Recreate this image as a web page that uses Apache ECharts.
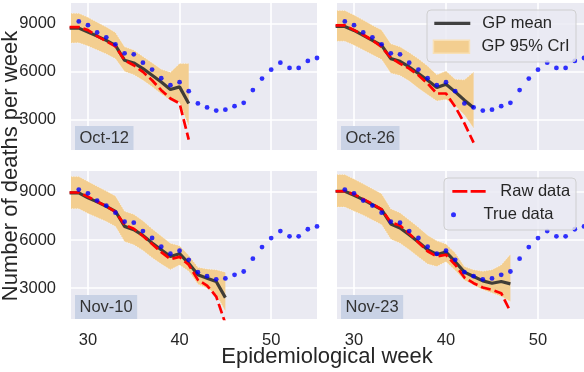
<!DOCTYPE html>
<html><head><meta charset="utf-8">
<script src="https://cdn.jsdelivr.net/npm/echarts@6/dist/echarts.min.js"></script>
<style>html,body{margin:0;padding:0;background:#fff}#c{width:584px;height:372px}</style>
</head><body><div id="c"></div>
<script>
// ---------- data ----------
const panelNames = ['Oct-12', 'Oct-26', 'Nov-10', 'Nov-23'];
const startWeek = 28;
const trueWeeks = [28,29,30,31,32,33,34,35,36,37,38,39,40,41,42,43,44,45,46,47,48,49,50,51,52,53,54,55];
const trueData = [9081,9144,8912,8456,8144,7706,7144,7081,6560,6125,5581,5144,5331,4769,4000,3750,3550,3610,3830,4040,4840,5560,6120,6560,6230,6230,6670,6850];

const meanOct12  = [8725,8725,8475,8225,7956,7644,6706,6540,6187,5769,5350,4875,5040,4000];
const rawOct12   = [8790,8790,8600,8225,7900,7581,6706,6394,5980,5456,4831,4310,4000,1730];
const upperOct12 = [9650,9650,9400,9100,8800,8450,7550,7350,6950,6550,6150,5950,6500,6500];
const lowerOct12 = [7790,7800,7600,7350,7100,6800,6000,5800,5450,5050,4600,4200,4050,2570];

const meanOct26  = [8831,8831,8581,8269,7956,7644,6810,6644,6290,5875,5456,5000,5200,4725,4206,3725];
const rawOct26   = [8894,8894,8600,8310,7956,7540,6870,6500,6187,5769,5250,4625,4625,3790,2750,1540];
const upperOct26 = [9830,9830,9550,9230,8900,8600,7750,7550,7200,6800,6350,5800,6040,5520,5480,5980];
const lowerOct26 = [7900,7900,7650,7350,7050,6750,5900,5750,5400,4950,4550,4150,4250,3850,3270,2440];

const meanNov10  = [8937,8937,8625,8375,8100,7790,6850,6644,6290,5810,5394,4975,5150,4550,3831,3625,3415,2410];
const rawNov10   = [8960,8960,8700,8400,8100,7750,6956,6700,6250,5750,5250,4810,4950,4456,3520,3165,2480,800];
const upperNov10 = [9950,9950,9650,9350,9050,8750,7800,7600,7200,6700,6250,5800,5650,5050,4300,4200,4150,4000];
const lowerNov10 = [7950,7950,7650,7400,7150,6850,5900,5700,5350,4900,4500,4150,4450,4050,3250,3000,2600,1550];

const meanNov23  = [9040,9040,8790,8520,8206,7894,7000,6750,6330,5875,5394,5100,5250,4650,4000,3725,3456,3310,3415,3270];
const rawNov23   = [9040,9040,8850,8550,8250,7900,7100,6900,6400,5850,5300,4975,5081,4456,3665,3310,3040,2894,2690,1540];
const upperNov23 = [10080,10080,9800,9500,9200,8880,7950,7700,7250,6800,6300,5950,5750,5200,4350,4150,4050,4150,4450,5120];
const lowerNov23 = [8050,8050,7800,7550,7250,6950,6050,5800,5400,4950,4500,4350,4650,4100,3500,3200,2900,2700,2480,2160];

const xTicks = [30, 40, 50];
const yTicks = [3000, 6000, 9000];

// ---------- build ----------
const means  = [meanOct12, meanOct26, meanNov10, meanNov23];
const raws   = [rawOct12, rawOct26, rawNov10, rawNov23];
const uppers = [upperOct12, upperOct26, upperNov10, upperNov23];
const lowers = [lowerOct12, lowerOct26, lowerNov10, lowerNov23];

const FONT = 'Liberation Sans';
const BAND = '#F3CE90';
const MEAN = 'rgba(45,45,45,0.9)';
const BG = '#EAEAF2';

const gridDefs = [
  {left:71, top:3, width:246, height:147},
  {left:337, top:3, width:247, height:147},
  {left:71, top:171, width:246, height:148},
  {left:337, top:171, width:247, height:148}
];

const pairs = (arr) => arr.map((v, i) => [startWeek + i, v]);

const grid = gridDefs.map(g => Object.assign({show:true, backgroundColor:BG, borderWidth:0, containLabel:false}, g));

const xAxis = gridDefs.map((g, k) => ({
  type:'value', gridIndex:k, min:28.15, max:55,
  axisLine:{show:false}, axisTick:{show:false, customValues:xTicks},
  splitLine:{show:true, lineStyle:{color:'#fff', width:1.6}},
  axisLabel:{show:k >= 2, customValues:xTicks, margin:13, fontSize:16.5, fontFamily:FONT, color:'#262626', formatter:v => String(v)}
}));
const yAxis = gridDefs.map((g, k) => ({
  type:'value', gridIndex:k, min:1080, max:10300,
  axisLine:{show:false}, axisTick:{show:false, customValues:yTicks},
  splitLine:{show:true, lineStyle:{color:'#fff', width:1.6}},
  axisLabel:{show:k % 2 === 0, customValues:yTicks, margin:15, fontSize:16.5, fontFamily:FONT, color:'#262626', formatter:v => String(v)}
}));

const series = [];
for (let k = 0; k < 4; k++) {
  const up = uppers[k], lo = lowers[k];
  series.push({
    type:'custom', name:'GP 95% CrI', xAxisIndex:k, yAxisIndex:k, z:1,
    itemStyle:{color:BAND},
    data:[[startWeek, up[0]]],
    renderItem: function (params, api) {
      if (params.dataIndex !== 0) return;
      const pu = up.map((v, i) => api.coord([startWeek + i, v]));
      const pl = lo.map((v, i) => api.coord([startWeek + i, v]));
      const cs = params.coordSys;
      return {
        type:'group',
        clipPath:{type:'rect', shape:{x:cs.x, y:cs.y, width:cs.width, height:cs.height}},
        children:[
          {type:'polygon', shape:{points:pu.concat(pl.slice().reverse())}, style:{fill:BAND}},
          {type:'polyline', shape:{points:pu}, style:{stroke:'rgba(255,255,255,0.75)', lineWidth:0.8, lineDash:[1,1.5], fill:null}},
          {type:'polyline', shape:{points:pl}, style:{stroke:'rgba(255,255,255,0.75)', lineWidth:0.8, lineDash:[1,1.5], fill:null}}
        ]
      };
    }
  });
  series.push({
    type:'line', name:'GP mean', xAxisIndex:k, yAxisIndex:k, z:2,
    data:pairs(means[k]), symbol:'none', showSymbol:false,
    lineStyle:{color:MEAN, width:3.2}, itemStyle:{color:MEAN}
  });
  series.push({
    type:'line', name:'Raw data', xAxisIndex:k, yAxisIndex:k, z:3,
    data:pairs(raws[k]), symbol:'none', showSymbol:false,
    lineStyle:{color:'#FF0000', width:2.7, type:[10,4]}, itemStyle:{color:'#FF0000'}
  });
  series.push({
    type:'scatter', name:'True data', xAxisIndex:k, yAxisIndex:k, z:4,
    data:trueWeeks.map((w, i) => [w, trueData[i]]),
    symbol:'circle', symbolSize:4.8, itemStyle:{color:'#0000FF'}
  });
}

const noSym = {color:'rgba(0,0,0,0)', borderWidth:0, borderColor:'rgba(0,0,0,0)'};
const legTxt = {fontSize:16.5, fontFamily:FONT, color:'#262626', lineHeight:18, padding:[0,0,0,7]};
const legBase = {orient:'vertical', padding:0, itemGap:0, selectedMode:false, z:60, itemWidth:36, itemHeight:13, textStyle:legTxt};
const legend = [
  Object.assign({}, legBase, {left:432.7, top:23.3 - 9, data:[{name:'GP mean', itemStyle:noSym, lineStyle:{width:3.2, color:MEAN}}]}),
  Object.assign({}, legBase, {left:432.7, top:46.7 - 9, data:[{name:'GP 95% CrI', icon:'rect', itemStyle:{color:BAND, borderColor:'#F8E0B6', borderWidth:1.5}}]}),
  Object.assign({}, legBase, {left:451, top:191.3 - 9, data:[{name:'Raw data', itemStyle:noSym, lineStyle:{width:2.7, color:'#FF0000', type:[15,3.3]}}]}),
  Object.assign({}, legBase, {left:451, top:214.7 - 9, itemHeight:5, data:[{name:'True data', icon:'circle'}]})
];

const labelBoxes = [[75,126],[341,126],[75,295],[341,295]];
const title = panelNames.map((n, k) => ({
  text:n, left:labelBoxes[k][0], top:labelBoxes[k][1], padding:[3,4.5,3,4.5],
  backgroundColor:'#C9D2E5',
  textStyle:{fontSize:16.5, fontWeight:'normal', fontFamily:FONT, color:'#333', lineHeight:18}
}));

const graphic = [
  {type:'rect', z:50, shape:{x:427, y:10, width:149, height:52, r:4}, style:{fill:'rgba(234,234,242,0.8)', stroke:'rgba(204,204,204,0.9)', lineWidth:1}},
  {type:'rect', z:50, shape:{x:444, y:178, width:132, height:52, r:4}, style:{fill:'rgba(234,234,242,0.8)', stroke:'rgba(204,204,204,0.9)', lineWidth:1}},
  {type:'text', z:50, x:327, y:357, style:{text:'Epidemiological week', font:'22px "Liberation Sans"', fill:'#262626', textAlign:'center', textVerticalAlign:'middle'}},
  {type:'text', z:50, x:11, y:166, rotation:Math.PI/2, style:{text:'Number of deaths per week', font:'22px "Liberation Sans"', fill:'#262626', textAlign:'center', textVerticalAlign:'middle'}}
];

const chart = echarts.init(document.getElementById('c'), null, {renderer:'canvas'});
chart.setOption({animation:false, grid, xAxis, yAxis, series, legend, title, graphic});
</script></body></html>
